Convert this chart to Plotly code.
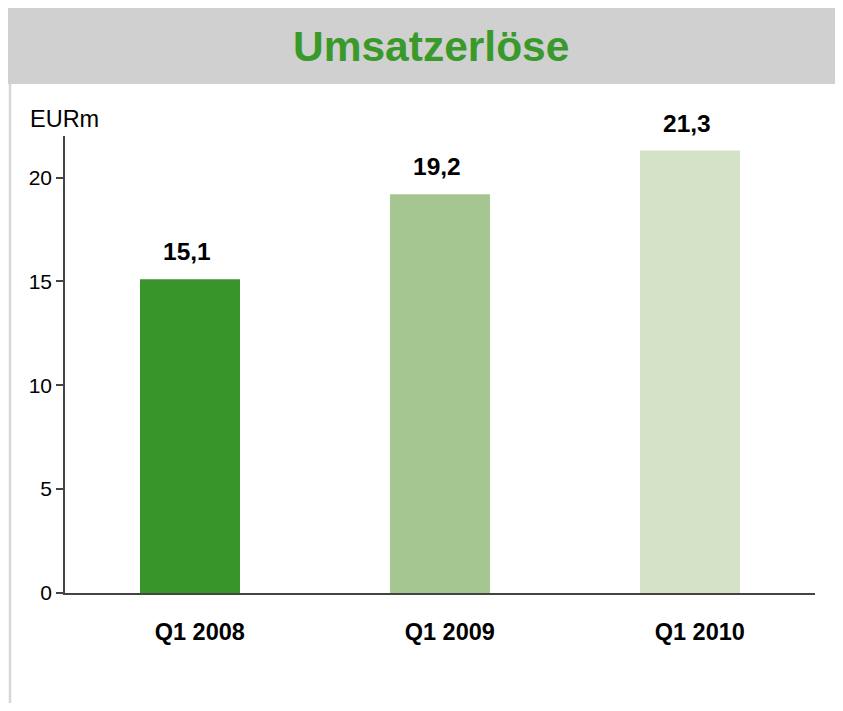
import plotly.graph_objects as go

categories = ["Q1 2008", "Q1 2009", "Q1 2010"]
values = [15.1, 19.2, 21.3]
value_labels = ["15,1", "19,2", "21,3"]
bar_colors = ["#37952a", "#a5c691", "#d4e2c7"]
y_ticks = [0, 5, 10, 15, 20]

FONT = "Liberation Sans, Arial, sans-serif"

# figure size (page has an 8px body margin)
FW, FH = 835, 695
# plot area in figure pixels
L, R, T, B = 57, 807, 128, 585
W, H = R - L, B - T


def px(x):
    return (x - L) / W


def py(y):
    return (B - y) / H


fig = go.Figure()
fig.add_trace(go.Bar(
    x=categories, y=values, marker=dict(color=bar_colors, line=dict(width=0)),
    width=0.4, hoverinfo="skip", showlegend=False,
))

for c, v, t in zip(categories, values, value_labels):
    fig.add_annotation(x=c, y=v, text=f"<b>{t}</b>", showarrow=False,
                       xanchor="center", yanchor="bottom", yshift=12, xshift=-3,
                       font=dict(family=FONT, size=24.5, color="#000000"))

# header band and title
fig.add_shape(type="rect", xref="paper", yref="paper",
              x0=px(-2), x1=px(FW + 5), y0=py(76), y1=py(-2),
              fillcolor="#d0d0d0", line=dict(width=0), layer="below")
fig.add_shape(type="line", xref="paper", yref="paper",
              x0=px(2), x1=px(2), y0=py(76), y1=py(FH + 5),
              line=dict(color="#d6d6d6", width=2.5))
fig.add_annotation(xref="paper", yref="paper", x=px(423), y=py(38),
                   text="<b>Umsatzerlöse</b>", showarrow=False,
                   xanchor="center", yanchor="middle",
                   font=dict(family=FONT, size=42.5, color="#399a2b"))
fig.add_annotation(xref="paper", yref="paper", x=px(20), y=py(111),
                   text="EURm", showarrow=False, xanchor="left", yanchor="middle",
                   font=dict(family=FONT, size=23.5, color="#000000"))

fig.update_layout(
    width=FW, height=FH,
    margin=dict(l=L, r=FW - R, t=T, b=FH - B),
    paper_bgcolor="white", plot_bgcolor="white",
    font=dict(family=FONT, color="#000000"),
    xaxis=dict(
        type="category", showgrid=False, showline=True, linecolor="#444444", linewidth=1.5,
        ticks="", tickfont=dict(family=FONT, size=23.5, color="#000000"),
        tickprefix="<b>&nbsp;&nbsp;&nbsp;", ticksuffix="</b>", ticklabelstandoff=17,
    ),
    yaxis=dict(
        range=[0, 22], tickvals=y_ticks, showgrid=False, zeroline=False,
        showline=True, linecolor="#444444", linewidth=1.5,
        ticks="outside", ticklen=7, tickcolor="#444444", tickwidth=1.5,
        tickfont=dict(family=FONT, size=21, color="#000000"),
    ),
)

fig.write_html("out.html")
